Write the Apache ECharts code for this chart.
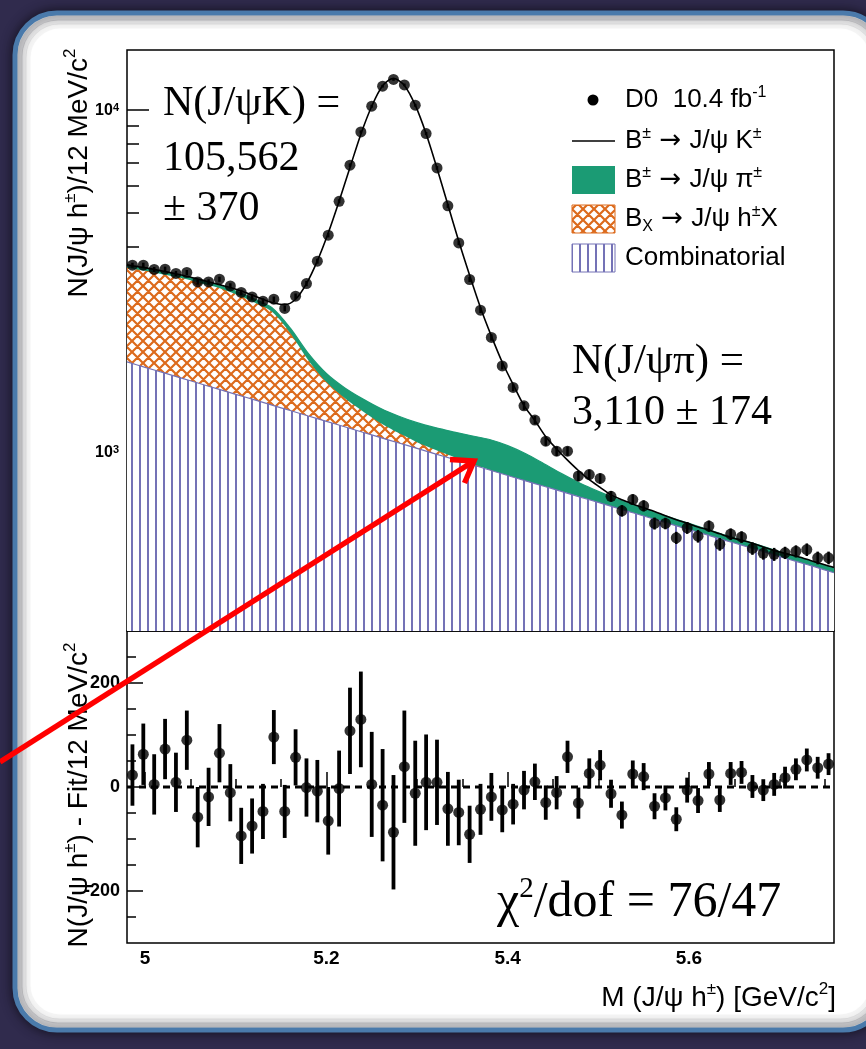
<!DOCTYPE html>
<html><head><meta charset="utf-8">
<script src="https://cdn.jsdelivr.net/npm/echarts@6/dist/echarts.min.js"></script>
<style>html,body{margin:0;padding:0;background:#302b4d;overflow:hidden}#c{width:866px;height:1049px}</style>
</head><body><div id="c"></div>
<script>
// ---- Data ----
const massCenters = [4.986,4.998,5.010,5.022,5.034,5.046,5.058,5.070,5.082,5.094,5.106,5.118,5.130,5.142,5.154,5.166,5.178,5.190,5.202,5.214,5.226,5.238,5.250,5.262,5.274,5.286,5.298,5.310,5.322,5.334,5.346,5.358,5.370,5.382,5.394,5.406,5.418,5.430,5.442,5.454,5.466,5.478,5.490,5.502,5.514,5.526,5.538,5.550,5.562,5.574,5.586,5.598,5.610,5.622,5.634,5.646,5.658,5.670,5.682,5.694,5.706,5.718,5.730,5.742,5.754];
const dataCounts = [3523,3523,3422,3430,3331,3353,3148,3148,3205,3064,2931,2844,2764,2801,2632,2858,3113,3619,4311,5417,6906,8639,10273,11756,12300,11858,10342,8548,6781,5252,4093,3199,2602,2165,1788,1546,1366,1241,1077,1007,1007,852,860,838,743,674,727,697,619,619,562,601,568,608,538,576,565,523,506,503,508,513,519,491,491];
const fitMass = [4.980,4.986,4.998,5.010,5.022,5.034,5.046,5.058,5.070,5.082,5.094,5.106,5.118,5.130,5.142,5.154,5.166,5.178,5.190,5.202,5.214,5.226,5.238,5.250,5.262,5.274,5.286,5.298,5.310,5.322,5.334,5.346,5.358,5.370,5.382,5.394,5.406,5.418,5.430,5.442,5.454,5.466,5.478,5.490,5.502,5.514,5.526,5.538,5.550,5.562,5.574,5.586,5.598,5.610,5.622,5.634,5.646,5.658,5.670,5.682,5.694,5.706,5.718,5.730,5.742,5.754,5.760];
const fitTotal = [3530,3510,3470,3425,3375,3325,3270,3210,3150,3090,3030,2960,2880,2800,2730,2700,2800,3110,3625,4375,5420,6800,8510,10270,11790,12390,11820,10350,8540,6770,5290,4140,3290,2645,2185,1832,1578,1368,1238,1110,1022,948,884,831,789,750,726,706,688,671,652,635,620,604,592,577,563,553,542,528,516,506,497,486,475,465,460];
const residuals = [23,63,5,73,9,90,-58,-19,65,-11,-94,-75,-47,96,-47,57,-1,-8,-65,-3,108,130,5,-35,-87,39,-12,9,9,-42,-49,-91,-43,-19,-44,-33,-6,10,-30,-11,58,-31,26,42,-13,-54,25,20,-37,-21,-62,-6,-26,25,-25,26,28,1,-6,5,18,34,52,37,44];
const residualErrors = [59,59,58,58,57,57,58,56,56,55,54,53,53,52,51,54,56,60,65,73,83,92,101,108,110,108,101,92,82,71,63,55,49,46,43,39,37,35,33,32,31,30,29,29,27,26,26,26,25,24,23,24,24,23,23,22,22,22,21,22,21,21,22,21,21];

const compMass = [4.98,5.00,5.02,5.04,5.06,5.08,5.10,5.12,5.14,5.16,5.18,5.20,5.22,5.24,5.26,5.28,5.30,5.32,5.34,5.36,5.38,5.40,5.42,5.44,5.46,5.48,5.50,5.52,5.54,5.56,5.58,5.60,5.62,5.64,5.66,5.68,5.70,5.72,5.74,5.76];
const combinatorial = [1837,1771,1708,1647,1588,1531,1476,1424,1373,1324,1276,1231,1187,1144,1103,1064,1026,989,954,920,887,855,824,795,767,739,713,687,663,639,616,594,573,552,533,514,495,478,461,444];
const bxComponent = [1628,1622,1603,1582,1538,1500,1420,1320,1200,906,582,373,253,174,113,73,44,28,16,7,2,0,0,0,0,0,0,0,0,0,0,0,0,0,0,0,0,0,0,0];
const piComponent = [45,47,49,51,54,57,61,66,72,79,87,95,104,114,125,137,150,163,177,190,200,190,165,130,97,72,55,44,37,32,28,25,22,20,19,18,17,16,15,15];

const xMajorTicks = [5, 5.2, 5.4, 5.6];
const xMinorTicks = [5.05,5.1,5.15,5.25,5.3,5.35,5.45,5.5,5.55,5.65,5.7,5.75];
const yMajorTicks = [1000, 10000];
const yMinorTicks = [400,500,600,700,800,900,2000,3000,4000,5000,6000,7000,8000,9000];
const resMajorTicks = [-200, 0, 200];
const resMinorTicks = [-250,-150,-100,-50,50,100,150,250];

// ---- Styling helpers ----
const SANS = "'Liberation Sans', Arial, Helvetica, sans-serif";
const SERIF = "'Liberation Serif', 'Times New Roman', serif";
const ARROWF = "'DejaVu Sans', sans-serif";
const GREEN = '#1b9b74', ORANGE = '#dc6a1c', PURPLE = '#7472b6';

function makeVHatch(){const c=document.createElement('canvas');c.width=8;c.height=8;const g=c.getContext('2d');g.fillStyle='#fff';g.fillRect(0,0,8,8);g.fillStyle=PURPLE;g.fillRect(3,0,2,8);return c;}
function makeXHatch(){const s=11;const c=document.createElement('canvas');c.width=s;c.height=s;const g=c.getContext('2d');g.fillStyle='#fff';g.fillRect(0,0,s,s);g.strokeStyle=ORANGE;g.lineWidth=2.2;g.beginPath();for(const o of [-s,0,s]){g.moveTo(o,0);g.lineTo(o+s,s);g.moveTo(o+s,0);g.lineTo(o,s);}g.stroke();return c;}
const vHatch = {image: makeVHatch(), repeat:'repeat'};
const xHatch = {image: makeXHatch(), repeat:'repeat'};

// cumulative tops for layered areas
const combTop = combinatorial.map((v,i)=>[compMass[i], v]);
const bxTop = combinatorial.map((v,i)=>[compMass[i], v + bxComponent[i]]);
const bgTop = combinatorial.map((v,i)=>[compMass[i], v + bxComponent[i] + piComponent[i]]);

const G0 = {left:127, top:50, width:707, height:581};
const G1 = {left:127, top:631, width:707, height:312};

function xAxisDef(grid, ticks, len, labels){
  return {type:'value', gridIndex:grid, min:4.98, max:5.76, position:'bottom',
    axisLine:{show:false}, splitLine:{show:false},
    axisTick:{show:true, inside:true, length:len, customValues:ticks, lineStyle:{color:'#000', width:1.5}},
    axisLabel:{show:labels, customValues:ticks, margin:6, color:'#000', fontFamily:SANS, fontWeight:'bold', fontSize:19,
      formatter:(v)=>String(+v.toFixed(1))}};
}
function yLogDef(ticks, len, labels){
  return {type:'log', logBase:10, gridIndex:0, min:300, max:15000, position:'left',
    axisLine:{show:false}, splitLine:{show:false},
    axisTick:{show:true, inside:true, length:len, customValues:ticks, lineStyle:{color:'#000', width:1.5}},
    axisLabel:{show:labels, customValues:ticks, margin:8, color:'#000',
      formatter:(v)=> '{b|10}{s|' + Math.round(Math.log10(v)) + '}',
      rich:{b:{fontFamily:SANS, fontWeight:'bold', fontSize:16, color:'#000'}, s:{fontFamily:SANS, fontWeight:'bold', fontSize:11, color:'#000', verticalAlign:'top', lineHeight:11}}}};
}
function yResDef(ticks, len, labels){
  return {type:'value', gridIndex:1, min:-300, max:300, position:'left',
    axisLine:{show:false}, splitLine:{show:false},
    axisTick:{show:true, inside:true, length:len, customValues:ticks, lineStyle:{color:'#000', width:1.5}},
    axisLabel:{show:labels, customValues:ticks, margin:7, color:'#000', fontFamily:SANS, fontWeight:'bold', fontSize:18}};
}

function errBars(xIdx, yIdx, values, width){
  return {type:'custom', xAxisIndex:xIdx, yAxisIndex:yIdx, z:6,
    data: massCenters.map((m,i)=>[m, values[i], residualErrors[i]]),
    encode:{x:0, y:1},
    renderItem:(params, api)=>{
      const x=api.value(0), y=api.value(1), e=api.value(2);
      const p1=api.coord([x, y-e]), p2=api.coord([x, y+e]);
      return {type:'line', shape:{x1:p1[0], y1:p1[1], x2:p2[0], y2:p2[1]}, style:{stroke:'#000', lineWidth:width}};
    }};
}

const supRich = (fs)=>({
  n:{fontFamily:SANS, fontSize:fs, fill:'#000', lineHeight:fs*1.2},
  a:{fontFamily:ARROWF, fontSize:fs, fill:'#000', lineHeight:fs*1.2},
  s:{fontFamily:SANS, fontSize:Math.round(fs*0.6), fill:'#000', verticalAlign:'top', lineHeight:Math.round(fs*0.6)},
  d:{fontFamily:SANS, fontSize:Math.round(fs*0.6), fill:'#000', verticalAlign:'bottom', lineHeight:Math.round(fs*0.6)}
});
function richText(x, y, text, fs, align, rotation){
  const el = {type:'text', x:x, y:y, z:50,
    style:{text:text, rich:supRich(fs), fill:'#000', fontFamily:SANS, fontSize:fs, verticalAlign:'middle', align:align||'left'}};
  if (rotation) el.rotation = rotation;
  return el;
}
function serifText(x, y, text, fs){
  return {type:'text', x:x, y:y, z:50, style:{text:text, fill:'#000', fontFamily:SERIF, fontSize:fs, verticalAlign:'middle', align:'left'}};
}

const graphic = [
  // slide panel
  {type:'rect', z:-20, shape:{x:15, y:13, width:870, height:1017, r:42}, style:{fill:'#ffffff', stroke:'#4a7aab', lineWidth:5, shadowBlur:12, shadowColor:'rgba(0,0,0,0.55)'}},
  {type:'rect', z:-19, shape:{x:20, y:18, width:860, height:1007, r:38}, style:{fill:'none', stroke:'rgba(110,110,120,0.30)', lineWidth:5}},
  {type:'rect', z:-19, shape:{x:24, y:22, width:852, height:999, r:35}, style:{fill:'none', stroke:'rgba(110,110,120,0.16)', lineWidth:5}},
  {type:'rect', z:-19, shape:{x:28, y:26, width:844, height:991, r:32}, style:{fill:'none', stroke:'rgba(110,110,120,0.07)', lineWidth:5}},
  // legend
  {type:'circle', z:50, shape:{cx:593, cy:100, r:5.5}, style:{fill:'#000'}},
  {type:'line', z:50, shape:{x1:572, y1:141, x2:615, y2:141}, style:{stroke:'#000', lineWidth:1.5}},
  {type:'rect', z:50, shape:{x:572, y:166, width:43, height:28}, style:{fill:GREEN}},
  {type:'rect', z:50, shape:{x:572, y:205, width:43, height:28}, style:{fill:xHatch, stroke:ORANGE, lineWidth:1}},
  {type:'rect', z:50, shape:{x:572, y:244, width:43, height:28}, style:{fill:vHatch, stroke:PURPLE, lineWidth:1}},
  richText(625, 100, '{n|D0  10.4 fb}{s|-1}', 26),
  richText(625, 141, '{n|B}{s|±}{a| → }{n|J/ψ K}{s|±}', 26),
  richText(625, 180, '{n|B}{s|±}{a| → }{n|J/ψ π}{s|±}', 26),
  richText(625, 219, '{n|B}{d|X}{a| → }{n|J/ψ h}{s|±}{n|X}', 26),
  richText(625, 258, '{n|Combinatorial}', 26),
  // annotations
  serifText(163, 104, 'N(J/ψK) =', 42),
  serifText(163, 159, '105,562', 42),
  serifText(163, 209, '± 370', 42),
  serifText(572, 362, 'N(J/ψπ) =', 43),
  serifText(572, 413, '3,110 ± 174', 42),
  {type:'text', x:497, y:903, z:50, style:{text:'{n|χ}{s|2}{n|/dof = 76/47}', fontFamily:SERIF, fontSize:50, verticalAlign:'middle', align:'left',
    rich:{n:{fontFamily:SERIF, fontSize:50, fill:'#000', lineHeight:56}, s:{fontFamily:SERIF, fontSize:29, fill:'#000', verticalAlign:'top', lineHeight:29}}}},
  // axis titles
  richText(79, 173, '{n|N(J/ψ h}{s|±}{n|)/12 MeV/c}{s|2}', 28, 'center', Math.PI/2),
  richText(79, 795, '{n|N(J/ψ h}{s|±}{n|) - Fit/12 MeV/c}{s|2}', 28, 'center', Math.PI/2),
  richText(836, 998, '{n|M (J/ψ h}{s|±}{n|) [GeV/c}{s|2}{n|]}', 28, 'right'),
  // red arrow
  {type:'polyline', z:60, shape:{points:[[0,762],[474,461]]}, style:{stroke:'#ff0000', lineWidth:5.5, fill:'none'}},
  {type:'polyline', z:60, shape:{points:[[450,459.5],[474,461],[464.5,483]]}, style:{stroke:'#ff0000', lineWidth:5.5, fill:'none', lineJoin:'miter'}}
];

const option = {
  animation:false,
  backgroundColor:'#302b4d',
  textStyle:{fontFamily:SANS},
  grid:[
    Object.assign({show:true, borderColor:'#000', borderWidth:1.5, backgroundColor:'transparent', containLabel:false}, G0),
    Object.assign({show:true, borderColor:'#000', borderWidth:1.5, backgroundColor:'transparent', containLabel:false}, G1)
  ],
  xAxis:[
    xAxisDef(0, xMajorTicks, 15, false),
    xAxisDef(0, xMinorTicks, 8, false),
    xAxisDef(1, xMajorTicks, 15, true),
    xAxisDef(1, xMinorTicks, 8, false)
  ],
  yAxis:[
    yLogDef(yMajorTicks, 22, true),
    yLogDef(yMinorTicks, 12, false),
    yResDef(resMajorTicks, 16, true),
    yResDef(resMinorTicks, 9, false)
  ],
  graphic: graphic,
  series:[
    {name:'B± → J/ψ π±', type:'line', xAxisIndex:0, yAxisIndex:0, data:bgTop, smooth:0.3, symbol:'none', z:1,
      lineStyle:{color:GREEN, width:1.2}, areaStyle:{color:GREEN, opacity:1, origin:'start'}},
    {name:'BX → J/ψ h±X', type:'line', xAxisIndex:0, yAxisIndex:0, data:bxTop, smooth:0.3, symbol:'none', z:2,
      lineStyle:{width:0}, areaStyle:{color:xHatch, opacity:1, origin:'start'}},
    {name:'Combinatorial', type:'line', xAxisIndex:0, yAxisIndex:0, data:combTop, smooth:0.2, symbol:'none', z:3,
      lineStyle:{color:PURPLE, width:1.2}, areaStyle:{color:vHatch, opacity:1, origin:'start'}},
    {name:'B± → J/ψ K±', type:'line', xAxisIndex:0, yAxisIndex:0, data:fitMass.map((m,i)=>[m, fitTotal[i]]), smooth:0.3, symbol:'none', z:5,
      lineStyle:{color:'#000', width:1.6}},
    errBars(0, 0, dataCounts, 2.5),
    {name:'D0 10.4 fb-1', type:'scatter', xAxisIndex:0, yAxisIndex:0, data:massCenters.map((m,i)=>[m, dataCounts[i]]), symbolSize:11, itemStyle:{color:'#000'}, z:7},
    {name:'zero', type:'line', xAxisIndex:2, yAxisIndex:2, data:[[4.98,0],[5.76,0]], symbol:'none', z:4,
      lineStyle:{color:'#000', width:3, type:[7,5]}},
    errBars(2, 2, residuals, 3.8),
    {name:'residual', type:'scatter', xAxisIndex:2, yAxisIndex:2, data:massCenters.map((m,i)=>[m, residuals[i]]), symbolSize:11, itemStyle:{color:'#000'}, z:7}
  ]
};
const chart = echarts.init(document.getElementById('c'), null, {renderer:'canvas', width:866, height:1049});
chart.setOption(option);
</script>
</body></html>
